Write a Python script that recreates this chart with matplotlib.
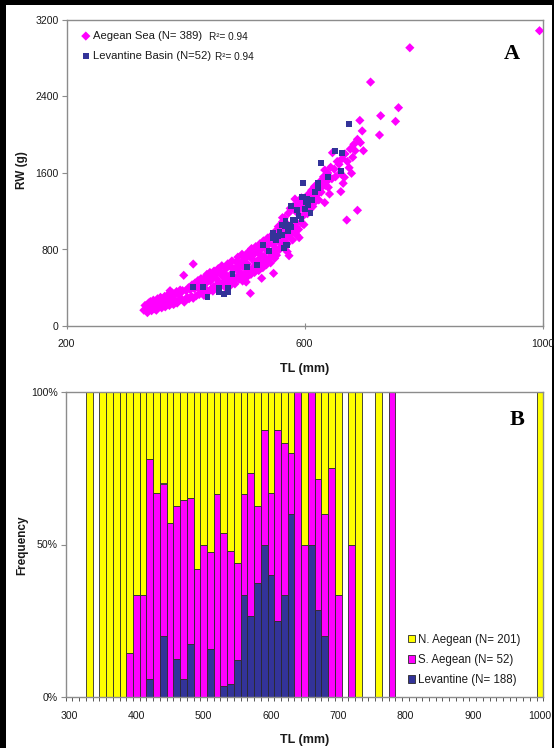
import matplotlib
matplotlib.use("Agg")
import matplotlib.pyplot as plt
from matplotlib.patches import Rectangle, Patch
from matplotlib.ticker import FixedLocator, FuncFormatter

plt.rcParams["font.family"] = ["Liberation Sans", "DejaVu Sans"]

W, H, DPI = 554, 748, 100

# ---------------- Panel A: total length vs round weight ----------------
aegean_tl = [
    330, 332, 335, 336, 338, 340, 341, 343, 345, 346, 348, 350, 351, 353, 355, 356,
    358, 360, 361, 363, 365, 366, 368, 370, 371, 373, 374, 375, 376, 378, 380, 381,
    383, 385, 386, 388, 390, 391, 391, 393, 395, 397, 398,
    400, 401, 403, 405, 406, 408, 410, 411, 413, 413, 415, 416, 418, 420, 421, 423,
    425, 426, 428, 430, 431, 433, 435, 436, 438, 440, 441, 443, 445, 446, 448, 450,
    451, 453, 455, 456, 458, 460, 461, 463, 465,
    466, 468, 470, 471, 473, 475, 476, 478, 480, 481, 483, 485, 486, 488, 490, 491,
    493, 495, 496, 498, 499, 500, 501, 502, 503, 505, 506, 508, 509, 510, 511, 513,
    515, 516, 518, 520, 521, 523, 525, 526, 528, 528, 530, 531, 533, 535, 536, 538,
    540, 541, 543, 545,
    546, 548, 548, 550, 550, 551, 553, 555, 556, 558, 560, 561, 563, 563, 565, 565,
    566, 568, 570, 571, 571, 573, 574, 575, 576, 576, 578, 580, 581, 583, 584, 584,
    585, 586, 587, 588, 590, 590, 591, 592, 594, 595, 597, 598, 599, 600,
    602, 603, 605, 605, 607, 609, 610, 612, 614, 615, 617, 618, 620, 622, 624, 626,
    628, 630, 632, 634, 634, 635, 637, 639, 640, 642, 644, 646, 647, 650, 652, 655,
    658, 660, 661,
    663, 665, 667, 668, 671, 672, 675, 677, 679, 681, 683, 685, 689, 689, 693, 694,
    697, 699, 711, 726, 728, 753, 758, 777, 995,
    422, 427, 434, 442, 447, 452, 457, 462, 467, 472, 477, 482, 487, 492, 497, 504,
    507, 512, 517, 522, 527, 532, 537, 542, 547, 552, 557, 562, 567, 572, 577, 582,
    587, 593, 596, 604, 608, 613, 619, 625,
]
aegean_rw = [
    165, 215, 185, 140, 240, 195, 255, 160, 225, 270, 180, 245, 165, 285, 205, 250,
    300, 190, 265, 220, 310, 200, 285, 235, 330, 215, 369, 300, 245, 345, 225, 320,
    265, 360, 240, 330, 270, 342, 376, 285, 370, 530, 250,
    270, 370, 300, 400, 285, 380, 310, 430, 290, 648, 390, 450, 315, 410, 475, 330,
    440, 495, 345, 460, 320, 510, 380, 540, 355, 485, 560, 385, 515, 365, 575, 415,
    540, 395, 600, 445, 560, 420, 630, 551, 470,
    410, 600, 455, 650, 500, 420, 620, 680, 470, 600, 440, 670, 510, 720, 490, 650,
    530, 750, 470, 690, 725, 545, 710, 460, 510, 770, 580, 730, 342, 540, 810, 610,
    750, 560, 830, 620, 780, 580, 860, 650, 499, 810, 610, 890, 680, 830, 640, 920,
    700, 860, 660, 950,
    740, 551, 930, 780, 708, 990, 740, 950, 1040, 800, 1010, 830, 1133, 1090, 880, 882,
    1130, 910, 1070, 777, 860, 1180, 735, 950, 952, 1230, 1010, 900, 1250, 1030, 990, 1328,
    1200, 1025, 950, 1270, 1010, 1210, 924, 1300, 1080, 1340, 1070, 1240, 1060, 1290,
    1180, 1340, 1175, 1270, 1380, 1220, 1300, 1420, 1250, 1360, 1460, 1300, 1430, 1380, 1318, 1509,
    1400, 1460, 1560, 1290, 1631, 1470, 1509, 1600, 1450, 1380, 1660, 1540, 1812, 1640, 1560, 1720,
    1691, 1600, 1405,
    1750, 1492, 1555, 1800, 1108, 1720, 1655, 1850, 1597, 1764, 1900, 1833, 1952, 1210, 2150, 1917,
    2040, 1833, 2551, 1997, 2199, 2140, 2283, 2910, 3088,
    395, 360, 445, 470, 410, 495, 455, 525, 540, 505, 545, 590, 610, 560, 620, 650,
    590, 700, 670, 690, 740, 730, 790, 770, 850, 810, 880, 930, 960, 980, 1020, 1040,
    1080, 1150, 1140, 1220, 1280, 1300, 1340, 1420,
]

levant_tl = [
    412, 429, 437, 457, 457, 465, 472, 472, 479, 503, 520, 531, 541, 547, 547, 552,
    555, 558, 562, 563, 565, 567, 568, 568, 570, 572, 576, 577, 578, 580, 584, 587,
    590, 595, 595, 597, 597, 601, 602, 605, 606, 610, 612, 617, 622, 623, 627, 640,
    651, 662, 663, 675,
]
levant_rw = [
    411, 411, 300, 394, 352, 330, 359, 394, 544, 620, 640, 847, 784, 969, 922, 900,
    945, 980, 1056, 952, 815, 1046, 847, 1095, 847, 990, 1056, 1039, 1255, 1108, 1108, 1213,
    1150, 1115, 1352, 1492, 1346, 1220, 1300, 1331, 1260, 1185, 1318, 1400, 1492, 1440, 1708, 1560,
    1833, 1624, 1806, 2109,
]

# ---------------- Panel B: length-class composition (%) ----------------
tl_classes = [
    330, 350, 360, 370, 380, 390, 400, 410, 420, 430, 440, 450, 460, 470, 480, 490,
    500, 510, 520, 530, 540, 550, 560, 570, 580, 590, 600, 610, 620, 630, 640, 650,
    660, 670, 680, 690, 700, 720, 730, 760, 780, 1000,
]
levantine_pct = [
    0, 0, 0, 0, 0, 0, 0, 0, 5.9, 0, 20.0, 0, 12.5, 5.9, 17.4, 0,
    0, 15.8, 0, 3.7, 4.2, 12.0, 33.3, 26.5, 37.5, 50.0, 40.0, 25.0, 33.3, 60.0, 0, 0,
    50.0, 28.6, 20.0, 0, 0, 0, 0, 0, 0, 0,
]
s_aegean_pct = [
    0, 0, 0, 0, 0, 14.3, 33.3, 33.3, 72.1, 67.0, 50.0, 57.1, 50.0, 58.8, 47.8, 42.0,
    50.0, 31.6, 66.7, 50.0, 43.8, 32.0, 33.4, 47.1, 25.0, 37.5, 27.0, 62.5, 50.0, 20.0, 100.0, 50.0,
    50.0, 42.8, 40.0, 75.0, 33.3, 50.0, 0, 0, 100.0, 0,
]
n_aegean_pct = [
    100, 100, 100, 100, 100, 85.7, 66.7, 66.7, 22.0, 33.0, 30.0, 42.9, 37.5, 35.3, 34.8, 58.0,
    50.0, 52.6, 33.3, 46.3, 52.0, 56.0, 33.3, 26.4, 37.5, 12.5, 33.0, 12.5, 16.7, 20.0, 0, 50.0,
    0, 28.6, 40.0, 25.0, 66.7, 50.0, 100, 100, 0, 100,
]
xtick_labels = [300, 400, 500, 600, 700, 800, 900, 1000]
ytick_labels_b = [0, 50, 100]

MAGENTA = "#FF00FF"
NAVY = "#333399"
YELLOW = "#FFFF00"
SPINE = "#8c8c8c"
TXT = "#1a1a1a"


def fx(px):
    return px / W


def fy(py):
    return 1 - py / H


fig = plt.figure(figsize=(W / DPI, H / DPI), dpi=DPI, facecolor="black")
fig.add_artist(Rectangle((fx(6), 0), fx(552) - fx(6), fy(5), transform=fig.transFigure,
                         facecolor="white", edgecolor="none", zorder=-10))

# ---- Panel A ----
ax1 = fig.add_axes([fx(66.5), fy(326), (542.5 - 66.5) / W, (326 - 20) / H])
sa = ax1.scatter(aegean_tl, aegean_rw, marker="D", s=22, c=MAGENTA, edgecolors="none",
                 label="Aegean Sea (N= 389)", zorder=3)
sl = ax1.scatter(levant_tl, levant_rw, marker="s", s=18, c=NAVY, edgecolors="none",
                 label="Levantine Basin (N=52)", zorder=4)
ax1.set_xlim(200, 1000)
ax1.set_ylim(0, 3200)
ax1.set_xticks([200, 600, 1000])
ax1.set_yticks([0, 800, 1600, 2400, 3200])
for sp in ax1.spines.values():
    sp.set_color(SPINE)
    sp.set_linewidth(1.0)
ax1.tick_params(axis="both", direction="out", length=3.5, width=0.8, color=SPINE,
                labelsize=7.6, labelcolor=TXT, pad=2)
ax1.tick_params(axis="x", direction="inout", length=4, pad=7.5)
ax1.legend(handles=[sa, sl], loc="upper left", bbox_to_anchor=(fx(83), fy(31)),
           bbox_transform=fig.transFigure, frameon=False, fontsize=8.1,
           handlelength=0.5, handletextpad=0.4, labelspacing=0.88,
           borderpad=0, borderaxespad=0, scatterpoints=1, labelcolor=TXT)
fig.text(fx(209), fy(37.5), "R²= 0.94", fontsize=7.2, color=TXT, va="center")
fig.text(fx(215), fy(57.5), "R²= 0.94", fontsize=7.2, color=TXT, va="center")
fig.text(fx(512), fy(54), "A", fontsize=16, fontweight="bold",
         family="Liberation Serif", ha="center", va="center", color="black")
fig.text(fx(22), fy(170), "RW (g)", fontsize=8.5, fontweight="bold", rotation=90,
         ha="center", va="center", color=TXT)
fig.text(fx(305), fy(369), "TL (mm)", fontsize=9, fontweight="bold",
         ha="center", va="center", color=TXT)

# ---- Panel B ----
ax2 = fig.add_axes([fx(65.7), fy(697), (543.4 - 65.7) / W, (697 - 392) / H])
edge = dict(edgecolor="#2a2a2a", linewidth=0.6, width=10)
ax2.bar(tl_classes, levantine_pct, color=NAVY, label="Levantine (N= 188)", **edge)
ax2.bar(tl_classes, s_aegean_pct, bottom=levantine_pct, color=MAGENTA,
        label="S. Aegean (N= 52)", **edge)
base = [a + b for a, b in zip(levantine_pct, s_aegean_pct)]
ax2.bar(tl_classes, n_aegean_pct, bottom=base, color=YELLOW,
        label="N. Aegean (N= 201)", **edge)
ax2.set_xlim(295, 1005)
ax2.set_ylim(0, 100)
ax2.set_xticks(xtick_labels)
ax2.xaxis.set_minor_locator(FixedLocator([295 + 10 * i for i in range(72)]))
ax2.set_yticks(ytick_labels_b)
ax2.yaxis.set_major_formatter(FuncFormatter(lambda v, p: f"{int(v)}%"))
for sp in ax2.spines.values():
    sp.set_color(SPINE)
    sp.set_linewidth(1.0)
ax2.tick_params(axis="y", direction="out", length=3.5, width=0.8, color=SPINE,
                labelsize=7.6, labelcolor=TXT, pad=2)
ax2.tick_params(axis="x", which="major", length=0, labelsize=7.6, labelcolor=TXT, pad=10)
ax2.tick_params(axis="x", which="minor", direction="out", length=3, width=0.7, color="#555555")

hb = [Patch(facecolor=YELLOW, edgecolor="#2a2a2a", linewidth=0.6),
      Patch(facecolor=MAGENTA, edgecolor="#2a2a2a", linewidth=0.6),
      Patch(facecolor=NAVY, edgecolor="#2a2a2a", linewidth=0.6)]
ax2.legend(handles=hb, labels=["N. Aegean (N= 201)", "S. Aegean (N= 52)", "Levantine (N= 188)"],
           loc="lower left", bbox_to_anchor=(fx(408), fy(686)), bbox_transform=fig.transFigure,
           frameon=False, fontsize=8.3, handlelength=0.6, handleheight=0.6,
           handletextpad=0.3, labelspacing=0.7, borderpad=0, borderaxespad=0,
           labelcolor=TXT)
fig.text(fx(517), fy(420), "B", fontsize=16, fontweight="bold",
         family="Liberation Serif", ha="center", va="center", color="black")
fig.text(fx(22), fy(545), "Frequency", fontsize=8.5, fontweight="bold", rotation=90,
         ha="center", va="center", color=TXT)
fig.text(fx(305), fy(740), "TL (mm)", fontsize=9, fontweight="bold",
         ha="center", va="center", color=TXT)

fig.savefig("out.png", dpi=DPI, facecolor="black")
